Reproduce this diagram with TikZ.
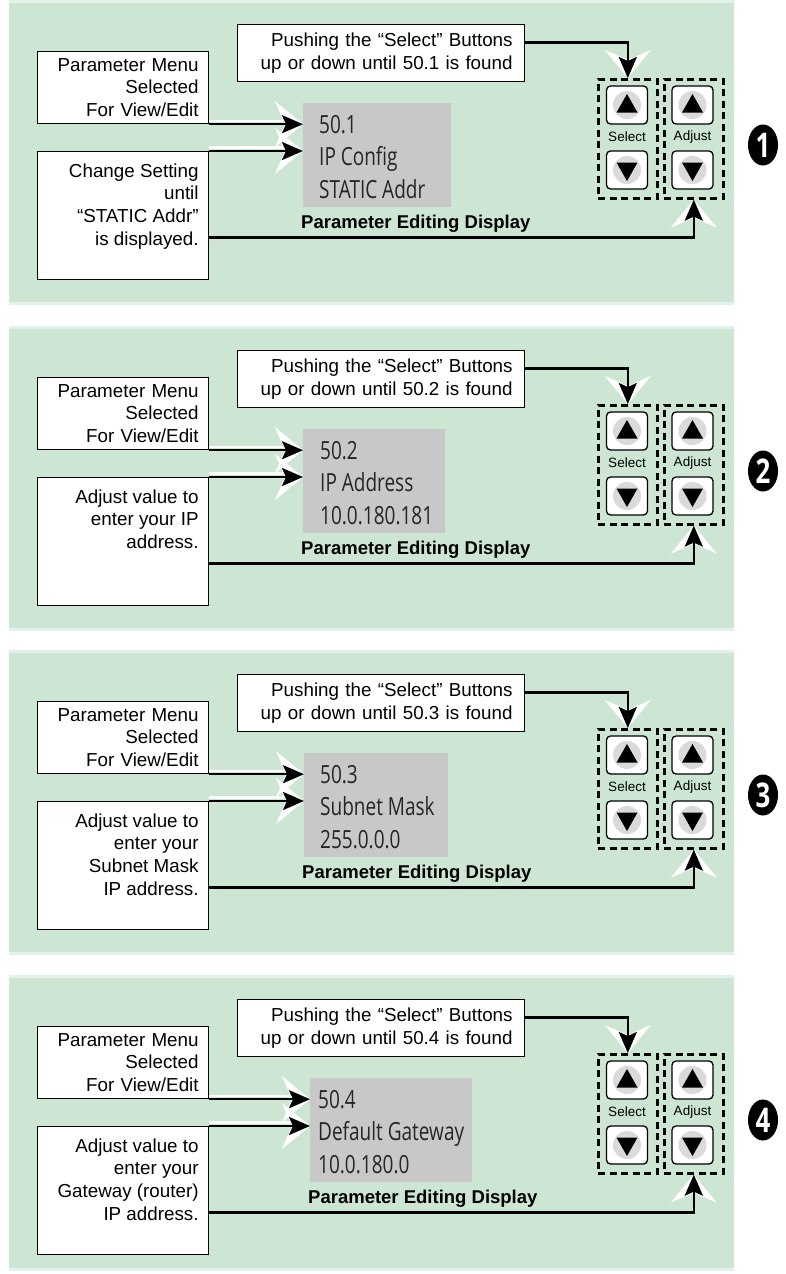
\documentclass[tikz,border=0pt]{standalone}
\usepackage{fontspec}
\setmainfont{Liberation Sans}
\newfontfamily\lcdfont[FakeStretch=0.76]{Open Sans}
\usetikzlibrary{arrows.meta,positioning,shapes.geometric}

\definecolor{panelgreen}{HTML}{CCE6D3}
\definecolor{panelrim}{HTML}{E2F0EE}
\definecolor{lcdgray}{HTML}{C8C8C8}
\definecolor{padgray}{HTML}{DADADA}

\tikzset{
  textbox/.style={draw, fill=white, line width=1.2pt, align=right,
    font=\fontsize{18.8}{22.6}\selectfont},
  lcdtext/.style={align=left, inner sep=0pt, text=black!85,
    font=\lcdfont\fontsize{25}{32.5}\selectfont},
  capt/.style={inner sep=0pt, font=\bfseries\fontsize{18.5}{22}\selectfont},
  padframe/.style={draw, line width=2.6pt, dash pattern=on 7pt off 4.5pt,
    minimum width=59pt, minimum height=119pt, anchor=north west, inner sep=0pt},
  pad/.style={draw, fill=white, rounded corners=4pt, line width=1.3pt,
    minimum width=41pt, minimum height=38pt, inner sep=0pt},
  padlabel/.style={inner sep=0pt, font=\fontsize{13.5}{15}\selectfont},
  stepnum/.style={ellipse, fill=black, text=white, minimum width=30pt,
    minimum height=41pt, inner sep=0pt,
    font=\lcdfont\bfseries\fontsize{34}{34}\selectfont},
  feed/.style={line width=2.5pt, -{Stealth[length=21pt, width=18pt, inset=4pt]}},
  rim/.style={white, line width=2.4pt},
  chevron/.style={white, line width=0.5pt,
    -{Stealth[length=28pt, width=46pt, inset=10pt, fill=white]}}
}

\begin{document}
\begin{tikzpicture}[x=1pt, y=-1pt]
  \useasboundingbox (0,0) rectangle (786,1274);

  \foreach \i/\ytop/\pbot/\lcdx/\lcdwidth/\lcdpad/\pname/\pvalue/\txt in {
      1/3/299/303/148/16/IP Config/STATIC Addr/Change Setting\\until\\“STATIC Addr”\\is displayed.,
      2/329/299/303/142/17/IP Address/10.0.180.181/Adjust value to\\enter your IP\\address.,
      3/653/299/304/144/16/Subnet Mask/255.0.0.0/Adjust value to\\enter your\\Subnet Mask\\IP address.,
      4/978/290/310/162/8/Default Gateway/10.0.180.0/Adjust value to\\enter your\\Gateway (router)\\IP address.} {
    \begin{scope}[shift={(0,\ytop)}]

      % Panel background
      \fill[panelrim] (9,-3) rectangle (734,\pbot+3);
      \fill[panelgreen] (9,0) rectangle (734,\pbot);

      % Text boxes
      \node[textbox, text width=151pt, inner xsep=10pt, inner ysep=2pt,
        minimum height=72pt, anchor=north west] (menu\i) at (37,48)
        {Parameter Menu\\Selected\\For View/Edit};
      \node[textbox, minimum width=171pt, minimum height=128pt,
        anchor=north west] (set\i) at (37,148) {};
      \node[textbox, draw=none, fill=none, inner sep=0pt, anchor=north east]
        (settxt\i) at ([xshift=-10pt, yshift=-12pt]set\i.north east) {\txt};
      \node[textbox, text width=263pt, inner xsep=12pt, inner ysep=2pt,
        minimum height=57pt, anchor=north west] (push\i) at (237,21)
        {Pushing the “Select” Buttons\\up or down until 50.\i\ is found};

      % Parameter editing display
      \node[fill=lcdgray, minimum width=\lcdwidth pt, minimum height=104pt,
        inner sep=0pt, anchor=north west] (lcd\i) at (\lcdx,100) {};
      \node[lcdtext, anchor=north west] (read\i)
        at ([xshift=\lcdpad pt, yshift=-12pt]lcd\i.north west) {50.\i\\\pname\\\pvalue};
      \node[capt, below right=7pt and -2pt of lcd\i.south west] (cap\i)
        {Parameter Editing Display};

      % Select and Adjust keypad
      \node[padframe] (selbox\i) at (597,75) {};
      \node[padframe] (adjbox\i) at (663,75) {};
      \node[pad] (selup\i) at (627,102) {};
      \node[pad] (seldn\i) at (627,167) {};
      \node[pad] (adjup\i) at (692.5,102) {};
      \node[pad] (adjdn\i) at (692.5,167) {};
      \node[padlabel] (sellab\i) at (627,134) {Select};
      \node[padlabel] (adjlab\i) at (692.5,134) {Adjust};
      \foreach \b in {selup\i,adjup\i} {
        \fill[padgray] (\b.center) circle (14pt);
        \fill[shift={(\b.center)}] (-10.5,7.5) -- (10.5,7.5) -- (0,-11) -- cycle;
      }
      \foreach \b in {seldn\i,adjdn\i} {
        \fill[padgray] (\b.center) circle (14pt);
        \fill[shift={(\b.center)}] (-10.5,-7.5) -- (10.5,-7.5) -- (0,11) -- cycle;
      }

      % Step number
      \node[stepnum] (num\i) at (763,142) {\i};

      % Arrows into the display
      \coordinate (tipa\i) at (menu\i.south east -| lcd\i.west);
      \coordinate (tipb\i) at (set\i.north east -| lcd\i.west);
      \draw[rim] ([yshift=3.5pt]menu\i.south east) -- ([xshift=-20pt, yshift=3.5pt]tipa\i);
      \draw[rim] ([yshift=3.5pt]set\i.north east) -- ([xshift=-20pt, yshift=3.5pt]tipb\i);
      \draw[chevron] ([xshift=-30pt]tipa\i) -- (tipa\i);
      \draw[chevron] ([xshift=-30pt]tipb\i) -- (tipb\i);
      \draw[feed] (menu\i.south east) -- (tipa\i);
      \draw[feed] (set\i.north east) -- (tipb\i);

      % Arrows to the keypad
      \draw[chevron] ([yshift=30pt]selbox\i.north) -- (selbox\i.north);
      \draw[chevron] ([yshift=-30pt]adjbox\i.south) -- (adjbox\i.south);
      \draw[feed] ([yshift=10.5pt]push\i.east) -| (selbox\i.north);
      \draw[feed] ([yshift=-22pt]set\i.east) -| (adjbox\i.south);

    \end{scope}
  }

\end{tikzpicture}
\end{document}
